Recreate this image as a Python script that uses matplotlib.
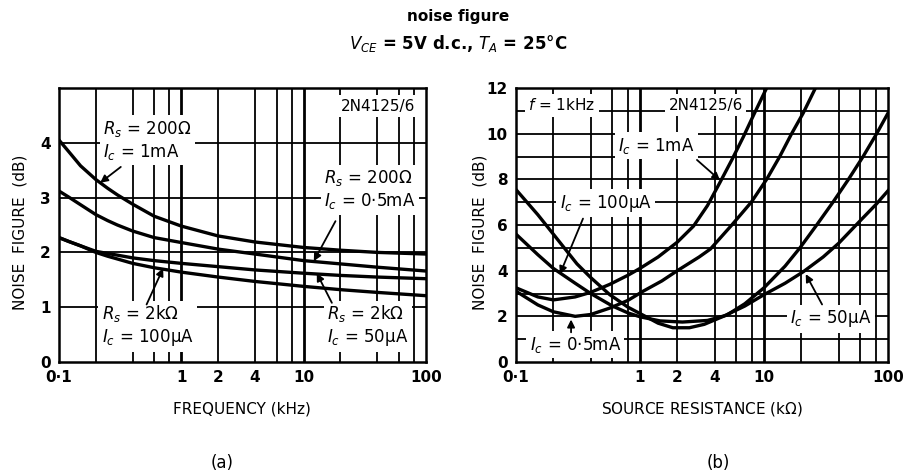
import numpy as np
import matplotlib
matplotlib.use('Agg')
import matplotlib.pyplot as plt

#----------------------------------------------------------------
# (a) noise figure vs frequency
#----------------------------------------------------------------
f_khz = [0.1, 0.12, 0.15, 0.2, 0.25, 0.3, 0.4, 0.6, 1, 2, 4, 10, 20, 40, 100]
nf_200_1mA    = [4.05, 3.84, 3.58, 3.33, 3.17, 3.05, 2.88, 2.66, 2.48, 2.30, 2.19, 2.09, 2.04, 2.00, 1.97]
nf_200_05mA   = [3.12, 3.01, 2.87, 2.69, 2.58, 2.50, 2.39, 2.27, 2.18, 2.06, 1.97, 1.85, 1.79, 1.73, 1.66]
nf_2k_50uA    = [2.27, 2.20, 2.12, 2.02, 1.98, 1.95, 1.90, 1.85, 1.80, 1.74, 1.68, 1.62, 1.58, 1.55, 1.52]
nf_2k_100uA   = [2.27, 2.20, 2.12, 2.00, 1.93, 1.88, 1.80, 1.72, 1.64, 1.55, 1.47, 1.38, 1.32, 1.27, 1.21]

#----------------------------------------------------------------
# (b) noise figure vs source resistance, f = 1 kHz
#----------------------------------------------------------------
rs_1mA  = [0.1, 0.15, 0.2, 0.3, 0.4, 0.57, 0.8, 1.0, 1.4, 2.0, 2.7, 3.5, 4.4, 5.5, 6.8, 8.3, 10.5]
nf_1mA  = [3.25, 2.85, 2.72, 2.85, 3.05, 3.40, 3.80, 4.10, 4.60, 5.25, 5.95, 6.85, 7.85, 8.85, 9.85, 10.85, 12.0]

rs_05mA = [0.1, 0.15, 0.2, 0.3, 0.4, 0.57, 0.8, 1.06, 1.5, 2.0, 3.0, 3.7, 5.5, 7.9, 10.5, 13.4, 16.7, 20.7, 26.0]
nf_05mA = [3.10, 2.50, 2.20, 2.00, 2.08, 2.36, 2.70, 3.10, 3.55, 4.00, 4.60, 4.95, 6.00, 7.00, 8.00, 9.00, 10.0, 10.9, 12.0]

rs_100uA = [0.1, 0.15, 0.2, 0.3, 0.4, 0.6, 0.8, 1.0, 1.45, 2.2, 3.5, 5.0, 7.0, 10, 14.8, 19.5, 26.6, 36, 48, 63, 81, 100]
nf_100uA = [5.60, 4.70, 4.10, 3.45, 3.00, 2.45, 2.15, 1.98, 1.80, 1.75, 1.82, 2.05, 2.55, 3.25, 4.20, 5.00, 6.00, 7.00, 8.00, 9.00, 10.0, 10.9]

rs_50uA = [0.1, 0.15, 0.2, 0.31, 0.4, 0.57, 0.8, 1.06, 1.4, 1.84, 2.5, 3.3, 4.7, 7, 10, 14.8, 20.7, 30, 40, 60, 80, 100]
nf_50uA = [7.55, 6.45, 5.60, 4.30, 3.70, 2.95, 2.40, 2.05, 1.70, 1.50, 1.50, 1.65, 2.00, 2.45, 2.95, 3.45, 3.95, 4.60, 5.20, 6.20, 6.90, 7.50]

x_ticks = [0.1, 1, 2, 4, 10, 100]
x_ticklabels = ['0·1', '1', '2', '4', '10', '100']
x_grid = [0.2, 0.4, 0.6, 0.8, 1, 2, 4, 6, 8, 10, 20, 40, 60, 80]

plt.rcParams['font.family'] = ['DejaVu Sans']
plt.rcParams['mathtext.fontset'] = 'dejavusans'

fig = plt.figure(figsize=(9.16, 4.74), dpi=100)
ax1 = fig.add_axes([59/916, (474-362)/474, 367/916, 274/474])
ax2 = fig.add_axes([516/916, (474-362)/474, 372/916, 274/474])

lw_curve = 2.4
box = dict(facecolor='white', edgecolor='none', pad=2.5)
arrow = dict(arrowstyle='-|>', color='black', lw=1.3, mutation_scale=11, shrinkA=0, shrinkB=0)

def base_axes(ax, ymax, ystep):
    ax.set_xscale('log')
    ax.set_xlim(0.1, 100)
    ax.set_ylim(0, ymax)
    for xv in x_grid:
        w = 2.0 if xv in (1, 10) else 1.3
        ax.axvline(xv, color='black', lw=w, zorder=1)
    for yv in np.arange(ystep, ymax, ystep):
        ax.axhline(yv, color='black', lw=1.3, zorder=1)
    for s in ax.spines.values():
        s.set_linewidth(1.8)
    ax.set_xticks(x_ticks)
    ax.set_xticklabels(x_ticklabels)
    ax.minorticks_off()
    ax.tick_params(length=0, labelsize=11, pad=6)
    for lab in ax.get_xticklabels() + ax.get_yticklabels():
        lab.set_fontweight('bold')

#------------------------- panel (a) -------------------------
base_axes(ax1, 5, 1)
ax1.set_yticks([0, 1, 2, 3, 4])
for yy in (nf_200_1mA, nf_200_05mA, nf_2k_50uA, nf_2k_100uA):
    ax1.plot(f_khz, yy, color='black', lw=lw_curve, zorder=4, solid_joinstyle='round')

kw = dict(fontsize=12, ha='center', va='center', multialignment='left', bbox=box, zorder=3)
ax1.text(40.6, 4.67, '2N4125/6', fontsize=11, ha='center', va='center', bbox=box, zorder=3)
ax1.text(0.53, 4.05, r'$R_s$ = 200$\Omega$' + '\n' + r'$I_c$ = 1mA', **kw)
ax1.text(34.8, 3.14, r'$R_s$ = 200$\Omega$' + '\n' + r'$I_c$ = 0·5mA', **kw)
ax1.text(0.53, 0.66, r'$R_s$ = 2k$\Omega$' + '\n' + r'$I_c$ = 100µA', **kw)
ax1.text(33.4, 0.66, r'$R_s$ = 2k$\Omega$' + '\n' + r'$I_c$ = 50µA', **kw)
ax1.annotate('', xy=(0.217, 3.27), xytext=(0.32, 3.56), arrowprops=arrow, zorder=5)
ax1.annotate('', xy=(12.1, 1.84), xytext=(18.2, 2.57), arrowprops=arrow, zorder=5)
ax1.annotate('', xy=(0.71, 1.71), xytext=(0.52, 1.05), arrowprops=arrow, zorder=5)
ax1.annotate('', xy=(12.8, 1.62), xytext=(17.0, 1.08), arrowprops=arrow, zorder=5)

#------------------------- panel (b) -------------------------
base_axes(ax2, 12, 1)
ax2.set_yticks([0, 2, 4, 6, 8, 10, 12])
ax2.plot(rs_1mA, nf_1mA, color='black', lw=lw_curve, zorder=4, solid_joinstyle='round')
ax2.plot(rs_05mA, nf_05mA, color='black', lw=lw_curve, zorder=4, solid_joinstyle='round')
ax2.plot(rs_100uA, nf_100uA, color='black', lw=lw_curve, zorder=4, solid_joinstyle='round')
ax2.plot(rs_50uA, nf_50uA, color='black', lw=lw_curve, zorder=4, solid_joinstyle='round')

ax2.text(0.235, 11.24, r'$f$ = 1kHz', fontsize=11, ha='center', va='center', bbox=box, zorder=3)
ax2.text(3.39, 11.24, '2N4125/6', fontsize=11, ha='center', va='center', bbox=box, zorder=3)
ax2.text(1.35, 9.47, r'$I_c$ = 1mA', **kw)
ax2.text(0.53, 6.95, r'$I_c$ = 100µA', **kw)
ax2.text(0.30, 0.75, r'$I_c$ = 0·5mA', **kw)
ax2.text(34.6, 1.9, r'$I_c$ = 50µA', **kw)
ax2.annotate('', xy=(4.42, 7.96), xytext=(2.88, 8.85), arrowprops=arrow, zorder=5)
ax2.annotate('', xy=(0.226, 3.85), xytext=(0.347, 6.28), arrowprops=arrow, zorder=5)
ax2.annotate('', xy=(0.278, 1.86), xytext=(0.278, 1.30), arrowprops=arrow, zorder=5)
ax2.annotate('', xy=(21.7, 3.85), xytext=(29.4, 2.52), arrowprops=arrow, zorder=5)

#------------------------- labels -------------------------
fig.text(20/916, 1-232/474, 'NOISE  FIGURE  (dB)', rotation=90, ha='center', va='center', fontsize=11)
fig.text(480/916, 1-232/474, 'NOISE  FIGURE  (dB)', rotation=90, ha='center', va='center', fontsize=11)
fig.text(242/916, 1-409/474, 'FREQUENCY (kHz)', ha='center', va='center', fontsize=11)
fig.text(702/916, 1-409/474, 'SOURCE RESISTANCE (k$\\Omega$)', ha='center', va='center', fontsize=11)
fig.text(222/916, 1-463/474, '(a)', ha='center', va='center', fontsize=12)
fig.text(718/916, 1-463/474, '(b)', ha='center', va='center', fontsize=12)
fig.text(458/916, 1-17/474, 'noise figure', ha='center', va='center', fontsize=11, fontweight='bold')
fig.text(458/916, 1-43/474, r'$V_{CE}$ = 5V d.c., $T_A$ = 25°C', ha='center', va='center', fontsize=12, fontweight='bold')

plt.savefig('out.png', dpi=100)
